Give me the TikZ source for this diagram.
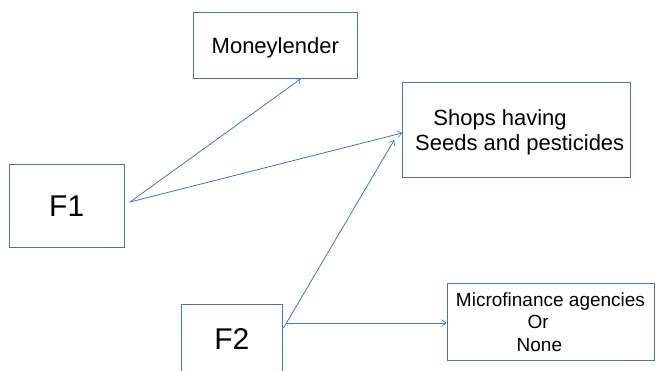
\documentclass[tikz,border=0pt]{standalone}
\usepackage{fontspec}
\setmainfont{Liberation Sans}
\usetikzlibrary{arrows.meta,calc}
\definecolor{edgeblue}{HTML}{4472C4}
\tikzset{
  box/.style={draw=edgeblue, line width=1pt, fill=white, inner sep=0pt, anchor=center},
  link/.style={draw=edgeblue, line width=0.8pt,
    -{Straight Barb[length=4.5pt,width=7pt,line width=0.6pt]}},
}
\begin{document}
\begin{tikzpicture}[x=1pt,y=-1pt]
  \useasboundingbox (0,0) rectangle (656,370);
  \clip (0,0) rectangle (656,370);

  % factor boxes
  \node[box, minimum width=114.7pt, minimum height=82.6pt, font=\fontsize{30}{36}\selectfont]
    (F1) at (66.7,206) {F1};
  \node[box, minimum width=101.7pt, minimum height=70pt, font=\fontsize{30}{36}\selectfont]
    (F2) at (231.9,339) {F2};

  % source boxes
  \node[box, minimum width=164pt, minimum height=65.6pt, text depth=0pt,
        font=\fontsize{22}{25}\selectfont]
    (money) at (275.3,45.5) {Moneylender};
  \node[box, minimum width=228pt, minimum height=94.6pt, align=left, text depth=0pt,
        font=\fontsize{22}{25}\selectfont]
    (shops) at (516.7,130) {\hspace*{24.3pt}Shops having\\\hspace*{6pt}Seeds and pesticides};
  \node[box, minimum width=207pt, minimum height=77.4pt, align=left,
        font=\fontsize{19}{22.5}\selectfont]
    (micro) at (550.5,322) {Microfinance agencies\\\hspace*{71.7pt}Or\\\hspace*{60.7pt}None};

  % connector tails
  \coordinate (f1tail) at (130,202);
  \coordinate (f2tail) at (283.5,328);
  \coordinate (f2tailb) at (286,323);

  % connectors
  \draw[link] (f1tail) -- ($(money.south)+(25.5,0)$);
  \draw[link] (f1tail) -- ($(shops.west)+(0,3)$);
  \draw[link] (f2tail) -- ($(shops.west)+(-8,10)$);
  \draw[link] (f2tailb) -- (f2tailb -| micro.west);
\end{tikzpicture}
\end{document}
